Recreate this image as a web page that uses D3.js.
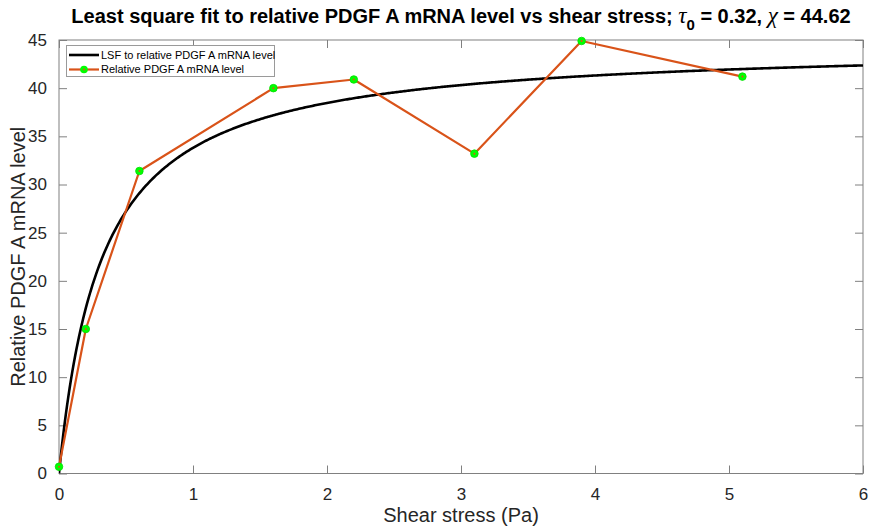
<!DOCTYPE html>
<html>
<head>
<meta charset="utf-8">
<script src="https://cdn.jsdelivr.net/npm/d3@7"></script>
<style>
  html, body { margin: 0; padding: 0; background: #fff; }
  svg { display: block; font-family: "Liberation Sans", Arial, sans-serif; }
</style>
</head>
<body>
<svg id="chart" width="869" height="529"></svg>
<script>
// Measured relative PDGF A mRNA level at each shear stress (Pa)
const shearStress = [0, 0.2, 0.6, 1.6, 2.2, 3.1, 3.9, 5.1];
const mrnaLevel   = [0.7, 15.0, 31.4, 40.0, 40.9, 33.2, 44.9, 41.2];

// Fitted saturation model parameters: level = chi * tau / (tau0 + tau)
const tau0 = 0.32;
const chi = 44.62;

const xTicks = [0, 1, 2, 3, 4, 5, 6];
const yTicks = [0, 5, 10, 15, 20, 25, 30, 35, 40, 45];

const seriesNames = ["LSF to relative PDGF A mRNA level", "Relative PDGF A mRNA level"];

const W = 869, H = 529;
const plot = { left: 59, right: 863, top: 40, bottom: 473.5 };

const svg = d3.select("#chart");
const x = d3.scaleLinear().domain([0, 6]).range([plot.left, plot.right]);
const y = d3.scaleLinear().domain([0, 45]).range([plot.bottom, plot.top]);

const axisColor = "#808080";
const textColor = "#262626";

// Fitted curve sampled densely across the x domain
const fitX = d3.range(0, 6.0001, 0.01);
const fitPts = fitX.map(t => [t, chi * t / (tau0 + t)]);

// Clip to the axes box
svg.append("defs").append("clipPath").attr("id", "clip")
  .append("rect")
  .attr("x", plot.left).attr("y", plot.top)
  .attr("width", plot.right - plot.left).attr("height", plot.bottom - plot.top);

// Axes box (MATLAB style with mirrored ticks)
const tickLen = 8;
const gAxes = svg.append("g");
gAxes.append("rect")
  .attr("x", plot.left).attr("y", plot.top)
  .attr("width", plot.right - plot.left).attr("height", plot.bottom - plot.top)
  .attr("fill", "none").attr("stroke", axisColor).attr("stroke-width", 1);

const xAxisB = d3.axisBottom(x).tickValues(xTicks).tickSize(-tickLen).tickPadding(tickLen + 6).tickFormat(d3.format("d"));
const xAxisT = d3.axisTop(x).tickValues(xTicks).tickSize(-tickLen).tickFormat("");
const yAxisL = d3.axisLeft(y).tickValues(yTicks).tickSize(-tickLen).tickPadding(tickLen + 4).tickFormat(d3.format("d"));
const yAxisR = d3.axisRight(y).tickValues(yTicks).tickSize(-tickLen).tickFormat("");

function styleAxis(g) {
  g.select(".domain").remove();
  g.selectAll(".tick line").attr("stroke", axisColor);
  g.selectAll(".tick text").attr("fill", textColor).style("font-size", "17px")
    .style("font-family", "'Liberation Sans', Arial, sans-serif");
}
svg.append("g").attr("transform", `translate(0,${plot.bottom})`).call(xAxisB).call(styleAxis);
svg.append("g").attr("transform", `translate(0,${plot.top})`).call(xAxisT).call(styleAxis);
svg.append("g").attr("transform", `translate(${plot.left},0)`).call(yAxisL).call(styleAxis);
svg.append("g").attr("transform", `translate(${plot.right},0)`).call(yAxisR).call(styleAxis);

const gData = svg.append("g").attr("clip-path", "url(#clip)");

// Fitted curve
gData.append("path")
  .datum(fitPts)
  .attr("fill", "none").attr("stroke", "#000").attr("stroke-width", 2.6)
  .attr("d", d3.line().x(d => x(d[0])).y(d => y(d[1])));

// Measured data line
const measured = shearStress.map((s, i) => [s, mrnaLevel[i]]);
svg.append("path")
  .datum(measured)
  .attr("fill", "none").attr("stroke", "#D95319").attr("stroke-width", 2.2)
  .attr("stroke-linejoin", "round")
  .attr("d", d3.line().x(d => x(d[0])).y(d => y(d[1])));

// Markers
const gMarks = svg.append("g");
gMarks.selectAll("circle.m").data(measured).enter().append("circle")
  .attr("class", "m")
  .attr("cx", d => x(d[0])).attr("cy", d => y(d[1])).attr("r", 3.8)
  .attr("fill", "#00FF00").attr("stroke", "#00E000").attr("stroke-width", 0.8);
gMarks.selectAll("circle.c").data(measured).enter().append("circle")
  .attr("class", "c")
  .attr("cx", d => x(d[0])).attr("cy", d => y(d[1])).attr("r", 1)
  .attr("fill", "#D95319");

// Legend
const lg = svg.append("g");
lg.append("rect").attr("x", 66.5).attr("y", 45.5).attr("width", 208).attr("height", 31)
  .attr("fill", "#fff").attr("stroke", "#9a9a9a").attr("stroke-width", 1);
const rowsY = [55, 69.5];
lg.append("line").attr("x1", 69).attr("x2", 99).attr("y1", rowsY[0]).attr("y2", rowsY[0])
  .attr("stroke", "#000").attr("stroke-width", 2.6);
lg.append("line").attr("x1", 69).attr("x2", 99).attr("y1", rowsY[1]).attr("y2", rowsY[1])
  .attr("stroke", "#D95319").attr("stroke-width", 2.2);
lg.append("circle").attr("cx", 84).attr("cy", rowsY[1]).attr("r", 3.8).attr("fill", "#00FF00");
lg.append("circle").attr("cx", 84).attr("cy", rowsY[1]).attr("r", 1).attr("fill", "#D95319");
lg.selectAll("text").data(seriesNames).enter().append("text")
  .attr("x", 101).attr("y", (d, i) => rowsY[i] + 3.8)
  .attr("fill", "#000").style("font-size", "11px")
  .text(d => d);

// Axis labels
svg.append("text")
  .attr("x", (plot.left + plot.right) / 2).attr("y", 522)
  .attr("text-anchor", "middle").attr("fill", textColor).style("font-size", "20px")
  .text("Shear stress (Pa)");
svg.append("text")
  .attr("transform", `translate(25,${(plot.top + plot.bottom) / 2}) rotate(-90)`)
  .attr("text-anchor", "middle").attr("fill", textColor).style("font-size", "20px")
  .text("Relative PDGF A mRNA level");

// Title with TeX-style symbols
const title = svg.append("text")
  .attr("x", 461).attr("y", 23)
  .attr("text-anchor", "middle").attr("fill", "#000")
  .style("font-size", "20px").style("font-weight", "bold");
title.append("tspan").text("Least square fit to relative PDGF A mRNA level vs shear stress; ");
title.append("tspan").style("font-style", "italic").style("font-weight", "normal")
  .style("font-family", "'Liberation Serif', 'Times New Roman', serif").style("font-size", "23px").text("τ");
title.append("tspan").attr("dy", 7).style("font-size", "15px").text("0");
title.append("tspan").attr("dy", -7).text(" = 0.32, ");
title.append("tspan").style("font-style", "italic").style("font-weight", "normal")
  .style("font-family", "'Liberation Serif', 'Times New Roman', serif").style("font-size", "23px").text("χ");
title.append("tspan").text(" = 44.62");
</script>
</body>
</html>
